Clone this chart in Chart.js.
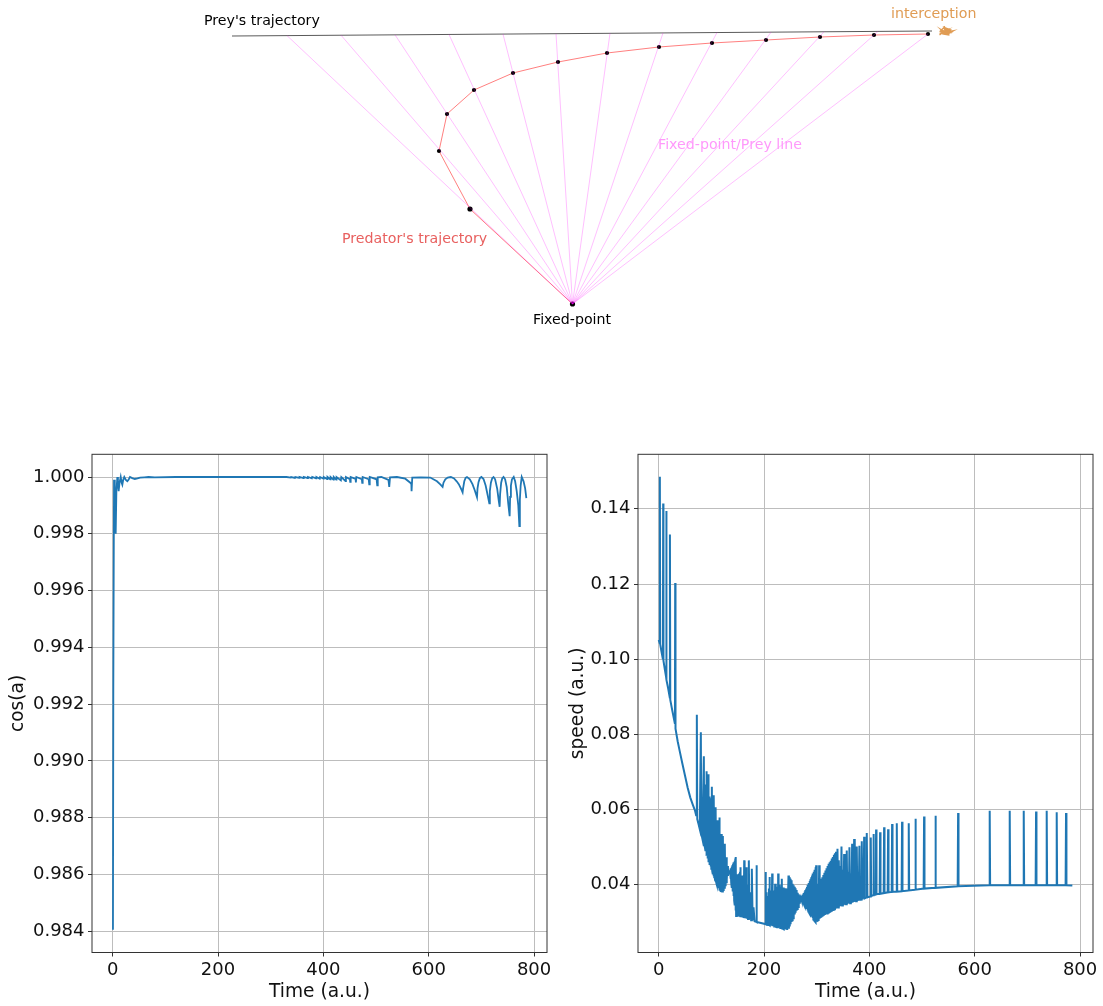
<!DOCTYPE html>
<html>
<head>
<meta charset="utf-8">
<script src="https://cdn.jsdelivr.net/npm/chart.js@4/dist/chart.umd.min.js"></script>
<style>
    body { margin: 0; background: #fff; }
    #page { position: relative; width: 1103px; height: 1006px; overflow: hidden; }
    canvas { position: absolute; }
</style>
</head>
<body>
<div id="page">
    <canvas id="sketch" width="1103" height="440" style="left:0;top:0"></canvas>
    <canvas id="cosChart" width="560" height="566" style="left:0;top:440px"></canvas>
    <canvas id="speedChart" width="543" height="566" style="left:560px;top:440px"></canvas>
</div>
<script>
// top sketch, units are relative to the fixed point
const preyX = [-340.5, 359.5];
const preyY = [268, 273];
const sightX = [-285.5, -231.5, -177.5, -123.5, -69.5, -16.5, 37.5, 90.5, 144.5, 198.5, 251.5, 305.5, 355.5];
const sightY = [268.4, 268.8, 269.2, 269.5, 269.9, 270.3, 270.7, 271, 271.5, 271.8, 272.2, 272.6, 270];
const predatorX = [0, -102.5, -133.5, -125.5, -98.5, -59.5, -14.5, 34.5, 86.5, 139.5, 193.5, 247.5, 301.5, 355.5];
const predatorY = [0, 95, 153, 190, 214, 231, 242, 251, 257, 261, 264, 267, 269, 270];
const scribbleX = [367, 371, 369, 374, 372, 376, 373, 378, 375, 380, 376, 373, 377, 371, 375, 369, 373, 368, 372, 375, 379, 374, 370, 376, 372, 377, 369, 374, 371, 376];
const scribbleY = [269, 272, 274, 271, 275, 273, 276, 274, 272, 273, 271, 270, 269, 270, 274, 272, 271, 273, 277, 270, 272, 273, 270, 275, 272, 271, 271, 274, 273, 272];
const noteText = ["Prey's trajectory", "interception", "Fixed-point/Prey line", "Predator's trajectory", "Fixed-point"];
const noteX = [-368.5, 318.5, 85.5, -230.5, -39.5];
const noteY = [283, 290, 159, 65, -16];
const noteColor = ["#000000", "#e09c54", "#ff99fb", "#e8605f", "#000000"];

// cos(a) against time
const cosTime = [
    0.5, 1.2, 2.5, 4, 5.7, 7, 8.8, 10, 11.3, 13,
    15.2, 17, 18.3, 20, 22, 25, 27.8, 30, 32.8, 37,
    42, 47, 52, 60, 68, 80, 120, 200, 300, 330,
    338, 338.7, 346, 346.7, 354, 354.7, 362, 362.7, 370, 370.7,
    378, 378.7, 386, 386.7, 393, 393.7, 400, 400.7, 407, 407.7,
    413, 413.7, 419, 419.7, 424.3, 425, 433.2, 434, 442, 442.8,
    450.4, 450.9, 451.8, 461.1, 461.7, 462.6, 473, 473.7, 474.6, 486,
    487, 488, 501, 502.2, 503.2, 510, 523.5, 525, 526.5, 539.6,
    555.4, 564.9, 567, 567.4, 568.7, 585, 602.9, 615.6, 621.9, 626.3,
    628, 631.4, 636, 642, 648, 653, 657, 661, 664.3, 665.2,
    667.5, 670, 672.6, 678, 683, 687, 691.6, 692.6, 694.5, 697,
    700, 704, 708, 712, 715, 716, 718, 720.5, 723, 726,
    730, 733, 734.6, 735.5, 737.5, 739.5, 742, 745, 748, 751,
    753.6, 754.5, 756, 758, 761.3, 764, 767, 770, 772, 773,
    774.5, 776.5, 780, 783, 785.3
];
const cosValue = [
    0.98405, 0.9925, 0.9999, 0.9988, 0.998, 0.9995, 1, 0.9998, 0.9995, 0.9998,
    1, 0.9998, 0.99973, 0.9999, 1, 0.9999, 0.99985, 0.9999, 1, 0.99996,
    0.99993, 0.99995, 0.99998, 0.99999, 1, 0.99999, 1, 1, 1, 1,
    0.99998, 1, 0.99997, 1, 0.99997, 1, 0.99996, 1, 0.99996, 1,
    0.99995, 1, 0.99995, 1, 0.99994, 1, 0.99994, 1, 0.99993, 1,
    0.99992, 1, 0.99991, 1, 0.99991, 1, 0.99988, 1, 0.99986, 1,
    0.99992, 0.99983, 1, 0.99993, 0.99981, 1, 0.99992, 0.99979, 1, 0.99992,
    0.99974, 1, 0.99992, 0.99971, 0.99999, 1, 0.9999, 0.99965, 0.99999, 1,
    0.99994, 0.9998, 0.99975, 0.9995, 0.99998, 0.99999, 0.99998, 0.99985, 0.99974, 0.99965,
    0.9998, 0.99992, 0.99998, 1, 0.99995, 0.99985, 0.99975, 0.9996, 0.99946, 0.9996,
    0.99985, 0.99997, 1, 0.99992, 0.99975, 0.99955, 0.99929, 0.9996, 0.99982, 0.99996,
    1, 0.99993, 0.9997, 0.99935, 0.99907, 0.9995, 0.9998, 0.99996, 1, 0.99992,
    0.99958, 0.99915, 0.99895, 0.9994, 0.9998, 0.99995, 1, 0.99992, 0.99965, 0.99905,
    0.99862, 0.9993, 0.9997, 0.99992, 1, 0.99985, 0.9995, 0.999, 0.99827, 0.9992,
    0.9997, 1, 0.99985, 0.9996, 0.99926
];

// speed against time
const speedTime = [
    0, 1.8, 2.2, 2.8, 5, 8, 8.5, 9, 12, 14,
    14.4, 15, 18, 21, 21.3, 22, 26, 30.8, 31.3, 31.9,
    36, 40, 45, 50, 55, 60, 65, 69, 71, 72.4,
    73.2, 75.6, 78, 80, 80.8, 83, 85.7, 86.5, 87.3, 87.9,
    88.5, 89.2, 90, 90.4, 90.8, 91.6, 92.4, 93, 93.6, 94.1,
    94.5, 95.2, 96, 96.6, 97.7, 98.4, 99.2, 99.9, 100.9, 101.6,
    102.4, 103, 103.8, 104.2, 104.7, 105.5, 106.3, 106.9, 107.6, 108,
    108.5, 109.3, 110, 110.6, 111.6, 112.3, 113, 113.7, 114.5, 115,
    115.4, 116.2, 117, 117.7, 118.6, 119.3, 120, 120.8, 121.8, 122.6,
    123.4, 124.2, 125.5, 126.3, 127.1, 127.9, 128.7, 129.6, 130.6, 131.5,
    132.5, 134, 134.8, 135.6, 136.3, 137, 137.7, 138.4, 139.1, 139.8,
    140.5, 141.2, 141.9, 142.6, 143.3, 144, 144.7, 145.4, 146, 146.4,
    147, 147.8, 148.6, 149.4, 150.2, 151, 151.8, 152.6, 153.4, 154.4,
    154.8, 155.3, 156, 156.8, 157.6, 158.4, 159.2, 160.4, 161.4, 162.3,
    163.1, 164, 165, 166, 167, 168.2, 169.6, 171.1, 172.3, 174,
    175.5, 176.8, 178.3, 180, 182, 185.1, 185.7, 186.3, 201.9, 202.7,
    203.7, 204.8, 205.8, 207, 208, 209.2, 209.8, 210.3, 211.1, 212,
    212.8, 213.6, 214.4, 215.4, 216.2, 217, 217.8, 218.6, 219.4, 220.2,
    220.6, 221, 221.8, 222.6, 223.4, 224.2, 225, 226, 226.4, 226.8,
    227.6, 228.4, 229.2, 230, 230.8, 231.8, 232.6, 233.7, 234.5, 235.3,
    236.1, 236.9, 237.7, 238.5, 239.3, 240.1, 240.9, 241.7, 242.5, 243.2,
    244, 245, 246.4, 247.2, 248, 248.8, 249.6, 250.4, 251.2, 252,
    252.7, 253.5, 254.3, 255.1, 255.9, 256.7, 257.5, 258.3, 259.1, 259.9,
    260.7, 261.5, 262.3, 263.1, 263.9, 264.7, 265.5, 266.3, 267.1, 267.9,
    268.7, 269.5, 270.4, 271.2, 272, 272.8, 273.6, 274.4, 275.2, 276,
    276.8, 277.6, 278.4, 279.2, 280, 280.8, 281.6, 282.4, 283.2, 284,
    284.8, 285.6, 286.4, 287.2, 288, 288.8, 289.6, 290.4, 291.2, 292,
    292.8, 293.6, 294.4, 295.2, 296, 296.8, 297.6, 298.2, 298.9, 300,
    301, 302.4, 303.7, 304.6, 305.6, 306.6, 307.6, 308.6, 309.6, 310.6,
    311.6, 312.6, 313.6, 314.6, 315.6, 316.6, 317.6, 318.6, 319.6, 320.6,
    321.6, 322.6, 323.6, 324.6, 325.6, 326.6, 327.6, 328.6, 329.6, 330.6,
    331.6, 332.6, 333.6, 334.6, 335.6, 336.6, 337.6, 339.4, 340.6, 341.9,
    343.2, 344.5, 345.8, 347, 348.2, 349.6, 350.8, 352,
    353.2, 354.6, 355.8, 357, 358.2, 359.6, 360.9, 362.1, 363.3, 364.8,
    366, 367.2, 368.4, 369.4, 370.2, 371, 372.2, 373.5, 374.8, 376,
    377.2, 378.5, 379.8, 381, 382.2, 383.4, 384.4, 385.5, 386.6, 388,
    389, 390, 391, 393.8, 395, 396.2, 401.8, 402.6, 403.4, 406.9,
    407.7, 408.5, 411.9, 412.7, 413.5, 419.5, 420.3, 421.1, 427.1, 427.9,
    428.7, 434.7, 435.5, 436.3, 442.3, 443.1, 443.9, 451.2, 452, 452.8,
    461.2, 462, 462.8, 473.9, 474.7, 475.5, 486.6, 487.4, 488.2, 503,
    503.8, 504.6, 524.6, 525.4, 526.2, 567.6, 568.4, 569.2, 627.6, 628.4,
    629.2, 665.6, 666.4, 667.2, 692.2, 693, 693.8, 715.6, 716.4, 717.2,
    735.8, 736.6, 737.4, 754.8, 755.6, 756.4, 772.5, 773.3, 774.1, 785.3
];
const speedValue = [
    0.1051, 0.1043, 0.1485, 0.104, 0.1022, 0.1, 0.1414, 0.0996, 0.097, 0.0953,
    0.1394, 0.0945, 0.0922, 0.0898, 0.1332, 0.0892, 0.0862, 0.0828, 0.1203, 0.0815,
    0.0782, 0.0755, 0.0722, 0.069, 0.0658, 0.0632, 0.0612, 0.0597, 0.0585, 0.0852,
    0.0575, 0.0562, 0.0548, 0.0806, 0.0537, 0.0522, 0.0742, 0.0505, 0.064, 0.0498,
    0.0667, 0.049, 0.065, 0.0484, 0.0702, 0.0477, 0.065, 0.047, 0.0645, 0.0465,
    0.0694, 0.046, 0.0635, 0.0453, 0.063, 0.0449, 0.0625, 0.0443, 0.0661, 0.0437,
    0.061, 0.0428, 0.06, 0.0423, 0.0638, 0.042, 0.058, 0.0413, 0.057, 0.041,
    0.0606, 0.0405, 0.055, 0.04, 0.0572, 0.0396, 0.0525, 0.0391, 0.0515, 0.0388,
    0.0579, 0.0384, 0.05, 0.0381, 0.0535, 0.038, 0.0485, 0.0382, 0.053, 0.0386,
    0.0478, 0.0392, 0.0509, 0.0399, 0.0465, 0.0407, 0.0473, 0.0414, 0.045, 0.0424,
    0.0438, 0.0434, 0.0428, 0.0438, 0.0416, 0.0444, 0.0405, 0.0448, 0.0392, 0.0452,
    0.0382, 0.0456, 0.037, 0.046, 0.0358, 0.0464, 0.0345, 0.047, 0.0332, 0.0474,
    0.0317, 0.0425, 0.0317, 0.0428, 0.0316, 0.0425, 0.0316, 0.043, 0.0315, 0.0435,
    0.0315, 0.0447, 0.0314, 0.0425, 0.0314, 0.0425, 0.0313, 0.0425, 0.0312, 0.0465,
    0.0311, 0.04, 0.0311, 0.0447, 0.031, 0.04, 0.0309, 0.0465, 0.0308, 0.038,
    0.0306, 0.0443, 0.0305, 0.034, 0.0303, 0.0302, 0.0452, 0.0301, 0.0296, 0.0434,
    0.0295, 0.038, 0.0294, 0.037, 0.0293, 0.039, 0.0293, 0.0421, 0.0292, 0.0385,
    0.0292, 0.0385, 0.0291, 0.043, 0.029, 0.0385, 0.029, 0.0385, 0.0289, 0.0385,
    0.0289, 0.0403, 0.0288, 0.039, 0.0288, 0.0395, 0.0287, 0.0395, 0.0287, 0.043,
    0.0286, 0.0398, 0.0286, 0.04, 0.0285, 0.0395, 0.0285, 0.0416, 0.0284, 0.0393,
    0.0283, 0.0393, 0.0282, 0.0391, 0.0282, 0.0391, 0.0281, 0.039, 0.0281, 0.039,
    0.028, 0.028, 0.0425, 0.0283, 0.042, 0.0289, 0.0416, 0.0295, 0.0412, 0.0301,
    0.0408, 0.0306, 0.0403, 0.0311, 0.0399, 0.0316, 0.0395, 0.0321, 0.0391, 0.0326,
    0.0386, 0.0331, 0.0382, 0.0336, 0.0379, 0.0341, 0.0375, 0.0346, 0.0372, 0.035,
    0.0369, 0.0355, 0.0364, 0.0358, 0.0371, 0.0354, 0.0374, 0.035, 0.0378, 0.0347,
    0.0382, 0.0343, 0.0386, 0.0339, 0.039, 0.0336, 0.0394, 0.0332, 0.04, 0.0329,
    0.0405, 0.0325, 0.041, 0.0322, 0.0415, 0.0319, 0.042, 0.0315, 0.0425, 0.0312,
    0.043, 0.0308, 0.0435, 0.0305, 0.044, 0.0302, 0.0447, 0.03, 0.0452, 0.0302,
    0.0403, 0.0305, 0.0306, 0.0452, 0.031, 0.0414, 0.0312, 0.0416, 0.0314, 0.042,
    0.0316, 0.0426, 0.0318, 0.0432, 0.032, 0.0438, 0.0322, 0.0444, 0.0324, 0.045,
    0.0326, 0.0456, 0.0328, 0.046, 0.033, 0.0464, 0.0331, 0.047, 0.0333, 0.0474,
    0.0334, 0.048, 0.0335, 0.0484, 0.0336, 0.0488, 0.0338, 0.0496, 0.034, 0.0465,
    0.0342, 0.045, 0.0344, 0.0502, 0.0345, 0.044, 0.0346, 0.0482,
    0.0347, 0.0435, 0.0348, 0.0491, 0.0349, 0.0435, 0.035, 0.05, 0.0351, 0.043,
    0.0352, 0.0509, 0.0353, 0.042, 0.0354, 0.0522, 0.0355, 0.0415, 0.0356, 0.0502,
    0.0357, 0.041, 0.0358, 0.0504, 0.036, 0.04, 0.0361, 0.0516, 0.0362, 0.039,
    0.0363, 0.0528, 0.0364, 0.0366, 0.0538, 0.0367, 0.0369, 0.0526, 0.037, 0.0372,
    0.0535, 0.0373, 0.0374, 0.0547, 0.0375, 0.0376, 0.054, 0.0376, 0.0378, 0.0553,
    0.0378, 0.038, 0.0548, 0.038, 0.0381, 0.0562, 0.0381, 0.0382, 0.0564, 0.0382,
    0.0383, 0.0568, 0.0383, 0.0385, 0.0564, 0.0385, 0.0387, 0.0576, 0.0387, 0.039,
    0.0582, 0.039, 0.0392, 0.0584, 0.0392, 0.0396, 0.0591, 0.0396, 0.0399, 0.0597,
    0.0399, 0.0399, 0.0597, 0.0399, 0.0399, 0.0597, 0.0399, 0.0399, 0.0595, 0.0399,
    0.0399, 0.0597, 0.0399, 0.0399, 0.0593, 0.0399, 0.0399, 0.0591, 0.0399, 0.0398
];

const timeTicks = [0, 200, 400, 600, 800];
const cosTicks = [0.984, 0.986, 0.988, 0.99, 0.992, 0.994, 0.996, 0.998, 1];
const speedTicks = [0.04, 0.06, 0.08, 0.1, 0.12, 0.14];

Chart.defaults.font.family = "'DejaVu Sans'";
Chart.defaults.animation = false;

function points(xs, ys) {
    return xs.map((x, i) => ({ x: x, y: ys[i] }));
}

const notes = {
    id: 'notes',
    afterDatasetsDraw(chart) {
        const { ctx, scales } = chart;
        ctx.save();
        ctx.font = "14.2px 'DejaVu Sans'";
        ctx.textBaseline = 'middle';
        noteText.forEach((text, i) => {
            ctx.fillStyle = noteColor[i];
            ctx.fillText(text, scales.x.getPixelForValue(noteX[i]), scales.y.getPixelForValue(noteY[i]));
        });
        ctx.restore();
    }
};

const frame = {
    id: 'frame',
    afterDatasetsDraw(chart) {
        const { ctx, chartArea: a } = chart;
        ctx.save();
        ctx.strokeStyle = '#333';
        ctx.lineWidth = 1;
        ctx.strokeRect(a.left, a.top, a.right - a.left, a.bottom - a.top);
        ctx.restore();
    }
};

new Chart(document.getElementById('sketch'), {
    type: 'line',
    plugins: [notes],
    data: {
        datasets: [
            ...sightX.map((x, i) => ({
                data: points([0, x], [0, sightY[i]]),
                borderColor: 'rgba(255,0,255,0.25)',
                borderWidth: 1,
                pointRadius: 0
            })),
            { data: points(preyX, preyY), borderColor: 'rgba(0,0,0,0.65)', borderWidth: 1, pointRadius: 0 },
            {
                data: points(predatorX, predatorY),
                borderColor: 'rgba(255,0,0,0.5)',
                borderWidth: 1,
                pointRadius: c => (c.dataIndex < 2 ? 2.6 : 2.1),
                pointBackgroundColor: '#000',
                pointBorderWidth: 0
            },
            { data: points(scribbleX, scribbleY), borderColor: '#e09c54', borderWidth: 1.5, pointRadius: 0 }
        ]
    },
    options: {
        responsive: false,
        plugins: { legend: { display: false }, tooltip: { enabled: false } },
        layout: { padding: 0, autoPadding: false },
        scales: {
            x: { type: 'linear', display: false, min: -572.5, max: 530.5 },
            y: { type: 'linear', display: false, min: -136, max: 304 }
        }
    }
});

function lineChart(id, xs, ys, yTicks, yRange, digits, yLabel, yWidth, rightPad, lineWidth) {
    return new Chart(document.getElementById(id), {
        type: 'line',
        plugins: [frame],
        data: {
            datasets: [{
                data: points(xs, ys),
                borderColor: '#1f77b4',
                borderWidth: lineWidth,
                pointRadius: 0,
                tension: 0,
                borderJoinStyle: 'miter'
            }]
        },
        options: {
            responsive: false,
            plugins: { legend: { display: false }, tooltip: { enabled: false } },
            layout: { padding: { top: 11, right: rightPad, left: 0, bottom: 0 }, autoPadding: false },
            scales: {
                x: {
                    type: 'linear',
                    min: -39.3,
                    max: 824.5,
                    afterBuildTicks: s => { s.ticks = timeTicks.map(v => ({ value: v })); },
                    afterFit: s => { s.height = 53.5; },
                    border: { display: false },
                    grid: { color: '#bdbdbd', lineWidth: 1, tickColor: '#333', tickLength: 4 },
                    ticks: { color: '#111', font: { size: 18 }, padding: 3, maxRotation: 0, autoSkip: false },
                    title: { display: true, text: 'Time (a.u.)', color: '#111', font: { size: 18.6 }, padding: { top: 0, bottom: 3 } }
                },
                y: {
                    type: 'linear',
                    min: yRange[0],
                    max: yRange[1],
                    afterBuildTicks: s => { s.ticks = yTicks.map(v => ({ value: v })); },
                    afterFit: s => { s.width = yWidth; },
                    border: { display: false },
                    grid: { color: '#bdbdbd', lineWidth: 1, tickColor: '#333', tickLength: 4 },
                    ticks: { color: '#111', font: { size: 18 }, padding: 3.5, autoSkip: false, callback: v => v.toFixed(digits) },
                    title: { display: true, text: yLabel, color: '#111', font: { size: 18.6 }, padding: { top: 7, bottom: 0 } }
                }
            }
        }
    });
}

lineChart('cosChart', cosTime, cosValue, cosTicks, [0.98325, 1.0008], 3, 'cos(a)', 92, 13, 1.8);
lineChart('speedChart', speedTime, speedValue, speedTicks, [0.022, 0.1545], 2, 'speed (a.u.)', 78, 10, 2);
</script>
</body>
</html>
